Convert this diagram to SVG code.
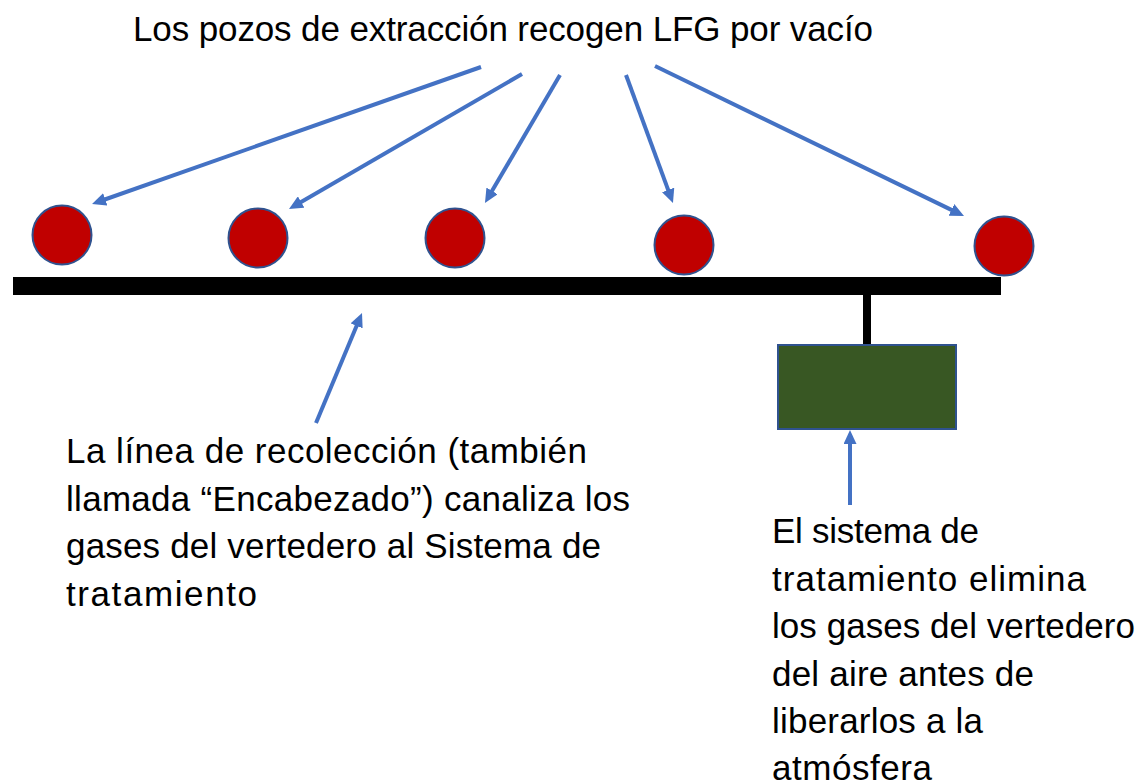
<svg xmlns="http://www.w3.org/2000/svg" width="1142" height="783" viewBox="0 0 1142 783">
<style>
.t{font-family:"Liberation Sans",Arial,sans-serif;font-size:35px;fill:#000}
.well{fill:#C00000;stroke:#2F528F;stroke-width:2}
.arr{stroke:#4472C4;stroke-width:4;fill:none;marker-end:url(#ah)}
</style>
<defs>
<marker id="ah" markerUnits="userSpaceOnUse" viewBox="0 0 14 13" markerWidth="14" markerHeight="13" refX="8" refY="6.5" orient="auto">
<path d="M0,0 L14,6.5 L0,13 Z" fill="#4472C4"/>
</marker>
</defs>
<rect width="1142" height="783" fill="#fff"/>
<text class="t" x="133" y="41" textLength="740">Los pozos de extracción recogen LFG por vacío</text>
<g id="header">
<rect x="13" y="277" width="988" height="18" fill="#000"/>
<rect x="863" y="295" width="8" height="50" fill="#000"/>
</g>
<g id="well1"><circle class="well" cx="62" cy="235" r="29.5"/></g>
<g id="well2"><circle class="well" cx="258" cy="238" r="29.5"/></g>
<g id="well3"><circle class="well" cx="455" cy="238" r="29.5"/></g>
<g id="well4"><circle class="well" cx="684" cy="245" r="29.5"/></g>
<g id="well5"><circle class="well" cx="1004" cy="246" r="29.5"/></g>
<g id="treatment"><rect x="778" y="345" width="178" height="84" fill="#385723" stroke="#2F528F" stroke-width="2"/></g>
<g id="connectors">
<line class="arr" x1="481" y1="67" x2="97.7" y2="202"/>
<line class="arr" x1="522" y1="74" x2="294.2" y2="206"/>
<line class="arr" x1="560" y1="75" x2="488" y2="197.8"/>
<line class="arr" x1="626" y1="75" x2="670.9" y2="197.4"/>
<line class="arr" x1="655" y1="66" x2="958.6" y2="213.4"/>
<line class="arr" x1="316" y1="423" x2="359.7" y2="318.5"/>
<line class="arr" x1="850" y1="505" x2="850" y2="436"/>
</g>
<g id="label-header">
<text class="t" x="66" y="463" textLength="521">La línea de recolección (también</text>
<text class="t" x="66" y="510.5" textLength="564">llamada “Encabezado”) canaliza los</text>
<text class="t" x="66" y="558" textLength="535">gases del vertedero al Sistema de</text>
<text class="t" x="66" y="605.5" textLength="191">tratamiento</text>
</g>
<g id="label-treatment">
<text class="t" x="772" y="543" textLength="207">El sistema de</text>
<text class="t" x="772" y="590.5" textLength="314">tratamiento elimina</text>
<text class="t" x="772" y="638" textLength="363">los gases del vertedero</text>
<text class="t" x="772" y="685.5" textLength="262">del aire antes de</text>
<text class="t" x="772" y="733" textLength="211">liberarlos a la</text>
<text class="t" x="772" y="780" textLength="160">atmósfera</text>
</g>
</svg>
